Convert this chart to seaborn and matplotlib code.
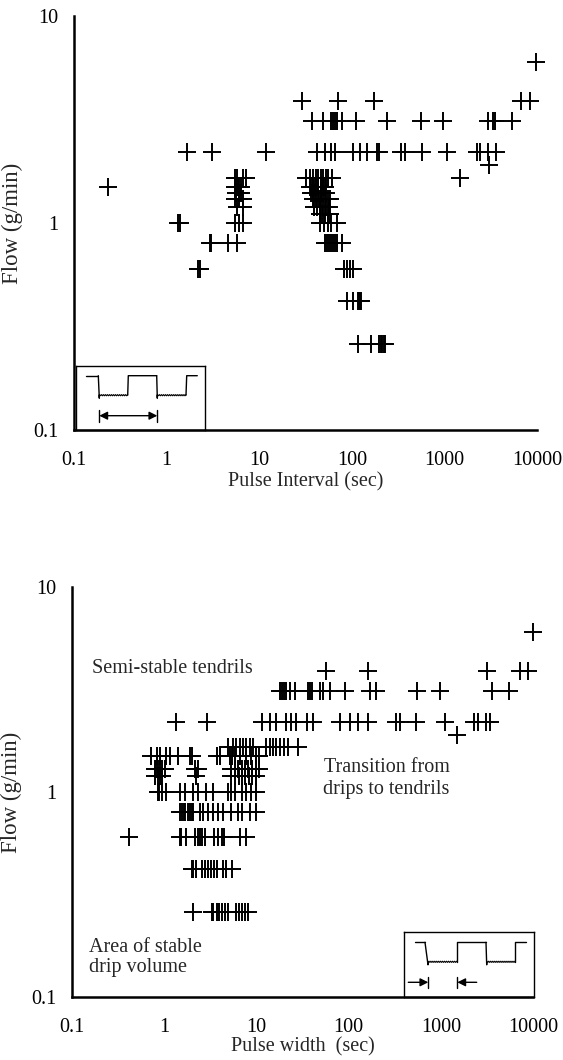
import numpy as np
import pandas as pd
import matplotlib
matplotlib.use("Agg")
import matplotlib.pyplot as plt
import seaborn as sns
from matplotlib.ticker import LogLocator, FixedLocator, FixedFormatter, NullFormatter

# ---------------- data ----------------
# Top panel: Flow vs Pulse Interval
interval_levels = [6.0, 3.9, 3.1, 2.2, 1.9, 1.65, 1.5, 1.4, 1.3, 1.2, 1.1, 1.0, 0.8, 0.6, 0.42, 0.26]
interval_rows = [
    [9700],
    [28.8, 71, 175, 6800, 8400],
    [37.4, 49, 59, 63, 66, 70, 78, 111, 238, 558, 973, 2980, 3375, 3520, 5330],
    [1.65, 3.12, 11.8, 42, 51.4, 59, 65.8, 104, 123, 147, 189, 197, 337, 375, 568, 1076,
     2235, 2425, 2980, 3600],
    [3030],
    [5.5, 5.8, 6.7, 7.2, 32, 35, 38, 41, 43, 46, 49, 52, 56, 61, 1470],
    [0.233, 5.5, 5.7, 5.9, 6.1, 6.3, 35, 37, 39, 41, 43, 46, 49, 51],
    [5.6, 6.0, 6.4, 36, 38, 40, 43, 46, 49, 52],
    [5.5, 6.1, 6.7, 38, 41, 44, 47, 51, 55, 58],
    [5.8, 6.7, 39, 42, 45, 49, 53, 57],
    [45, 48, 51, 55, 58],
    [1.32, 1.4, 5.5, 6.1, 6.7, 45, 50, 55, 60, 70],
    [2.95, 3.05, 4.6, 5.7, 51, 54, 57, 60, 63, 66, 70, 78],
    [2.17, 2.3, 82, 88, 96, 102],
    [88, 104, 117, 120, 124, 127],
    [117, 163, 197, 205, 213, 220, 227],
]

# Bottom panel: Flow vs Pulse width
width_levels = [6.0, 3.9, 3.1, 2.2, 1.9, 1.65, 1.5, 1.3, 1.2, 1.0, 0.8, 0.6, 0.42, 0.26]
width_rows = [
    [10000],
    [57, 162, 3160, 7140, 8790],
    [18, 19, 20, 21, 23, 26, 36, 38, 40, 48.6, 52.8, 62.4, 90.7, 169, 200, 551, 970, 3610, 5560],
    [1.33, 2.88, 11.4, 14, 16.5, 21.2, 24, 27.2, 35, 41.2, 81.5, 103, 126, 162, 324, 358, 542,
     1100, 2320, 2520, 3110, 3380],
    [1500],
    [4.9, 5.6, 6.0, 6.6, 7.2, 7.8, 8.5, 9.2, 12.8, 14, 15.2, 16.5, 17.9, 20, 22.1, 28.3],
    [0.72, 0.83, 0.9, 1.04, 1.15, 1.42, 1.9, 1.98, 3.7, 4.0, 5.15, 5.5, 5.83, 6.6, 7.8, 8.8, 10.0, 10.8],
    [0.79, 0.82, 0.86, 0.9, 0.95, 1.02, 2.15, 2.33, 5.3, 5.8, 6.3, 6.9, 7.5, 8.2, 9.0, 9.8, 10.8],
    [0.8, 0.85, 0.9, 0.95, 2.24, 5.3, 5.8, 6.4, 7.0, 7.6, 8.3, 9.0, 10.0],
    [0.85, 0.87, 0.94, 1.04, 1.47, 1.67, 2.06, 2.33, 2.87, 3.4, 4.94, 5.34, 5.83, 6.9, 7.8, 8.8, 10.0],
    [1.47, 1.55, 1.62, 1.7, 1.8, 1.9, 2.0, 2.06, 2.43, 2.64, 3.0, 3.4, 3.85, 4.35, 5.34, 6.3, 6.9, 8.5, 10.0],
    [0.415, 1.47, 1.54, 1.74, 2.15, 2.3, 2.45, 2.6, 2.75, 3.5, 3.85, 4.2, 4.5, 6.6, 7.8],
    [2.0, 2.06, 2.24, 2.54, 2.75, 3.0, 3.25, 3.5, 3.7, 4.35, 4.7, 5.5],
    [2.06, 3.27, 3.4, 3.7, 3.95, 4.25, 4.6, 4.94, 6.05, 6.5, 7.0, 7.5, 8.1],
]

x_ticks = [0.1, 1, 10, 100, 1000, 10000]
x_ticklabels = ["0.1", "1", "10", "100", "1000", "10000"]
y_ticks = [0.1, 1, 10]
y_ticklabels = ["0.1", "1", "10"]

# inset schematics (inset pixel units, y measured downward)
top_wave_x = [10, 22.3, 23.3, 51.7, 52.3, 80.7, 81.3, 110, 110.7, 121.3]
bot_wave_x = [11, 21, 24, 52.7, 52.7, 82, 82.7, 111, 111, 122]

# ---------------- build frames ----------------
def rows_to_frame(levels, rows, xname):
    xs, ys = [], []
    for lev, row in zip(levels, rows):
        xs.extend(row)
        ys.extend([lev] * len(row))
    return pd.DataFrame({xname: xs, "flow": ys})

df_int = rows_to_frame(interval_levels, interval_rows, "interval")
df_wid = rows_to_frame(width_levels, width_rows, "width")

# ---------------- style ----------------
sns.set_theme(style="white")
plt.rcParams["font.family"] = ["Liberation Serif", "DejaVu Serif"]

W, H = 563, 1060
fig = plt.figure(figsize=(W / 100, H / 100), dpi=100)

def px_axes(l, r, t, b):
    return fig.add_axes([l / W, 1 - b / H, (r - l) / W, (b - t) / H])

ax1 = px_axes(74, 537, 16, 430)
ax2 = px_axes(72, 533, 587, 997)

FS = 14.5

def style_axes(ax, minor_y=True):
    ax.set_xscale("log")
    ax.set_yscale("log")
    ax.set_xlim(0.1, 10000)
    ax.set_ylim(0.1, 10)
    for s in ["top", "right"]:
        ax.spines[s].set_visible(False)
    for s in ["left", "bottom"]:
        ax.spines[s].set_color("black")
        ax.spines[s].set_linewidth(1.8)
    ax.xaxis.set_major_locator(FixedLocator(x_ticks))
    ax.xaxis.set_major_formatter(FixedFormatter(x_ticklabels))
    ax.xaxis.set_minor_locator(FixedLocator([]))
    ax.yaxis.set_major_locator(FixedLocator(y_ticks))
    ax.yaxis.set_major_formatter(FixedFormatter(y_ticklabels))
    if minor_y:
        ax.yaxis.set_minor_locator(LogLocator(base=10, subs=np.arange(2, 10)))
        ax.yaxis.set_minor_formatter(NullFormatter())
        ax.tick_params(axis="y", which="minor", direction="in", length=2, width=0.6, color="#555555")
    else:
        ax.yaxis.set_minor_locator(FixedLocator([]))
    ax.tick_params(axis="both", which="major", direction="out", length=7, width=1.8,
                   colors="black", labelsize=FS, pad=4)
    ax.tick_params(axis="x", which="major", pad=8)
    ax.grid(False)
    ax.set_facecolor("white")

for ax, df, xname in [(ax1, df_int, "interval"), (ax2, df_wid, "width")]:
    sns.scatterplot(data=df, x=xname, y="flow", marker="+", s=160, color="black",
                    linewidth=1.4, ax=ax, legend=False, clip_on=False)

style_axes(ax1, minor_y=True)
style_axes(ax2, minor_y=False)

ax1.set_xlabel("Pulse Interval (sec)", fontsize=FS, labelpad=2)
ax1.set_ylabel("Flow (g/min)", fontsize=16.5)
ax1.yaxis.set_label_coords(-0.110, 0.50)
ax2.set_xlabel("Pulse width  (sec)", fontsize=FS, labelpad=0)
ax2.set_ylabel("Flow (g/min)", fontsize=16.5)
ax2.yaxis.set_label_coords(-0.108, 0.50)

# annotations in bottom panel
ax2.text(0.165, 4.0, "Semi-stable tendrils", fontsize=FS, ha="left", va="center")
ax2.text(1250, 1.16, "Transition from\ndrips to tendrils", fontsize=FS, ha="right",
         multialignment="right", va="center", linespacing=1.2)
ax2.text(0.152, 0.156, "Area of stable\ndrip volume", fontsize=FS, ha="left", va="center",
         linespacing=1.1)

# ---------------- insets ----------------
def zigzag(x0, x1, y, amp=1.0, step=2.0):
    n = int((x1 - x0) / step)
    xs = np.linspace(x0, x1, n * 2 + 1)
    ys = np.array([y + (amp if i % 2 else -amp) * 0.6 for i in range(len(xs))])
    return xs, ys

def draw_wave(ax, wx, hi, lo):
    ax.plot([wx[0], wx[1]], [hi, hi], color="black", lw=1.0)
    ax.plot([wx[1], wx[2], wx[2]], [hi, lo + 3, lo], color="black", lw=1.0)
    zx, zy = zigzag(wx[2], wx[3], lo)
    ax.plot(zx, zy, color="black", lw=0.8)
    ax.plot([wx[3], wx[4], wx[5]], [lo, hi, hi], color="black", lw=1.0)
    ax.plot([wx[5], wx[6], wx[6]], [hi, lo + 3, lo], color="black", lw=1.0)
    zx, zy = zigzag(wx[6], wx[7], lo)
    ax.plot(zx, zy, color="black", lw=0.8)
    ax.plot([wx[7], wx[8], wx[9]], [lo, hi, hi], color="black", lw=1.0)

def make_inset(l, r, t, b):
    ia = px_axes(l, r, t, b)
    ia.set_xlim(0, r - l)
    ia.set_ylim(b - t, 0)
    ia.set_xticks([])
    ia.set_yticks([])
    for s in ia.spines.values():
        s.set_linewidth(1.0)
        s.set_color("black")
        s.set_visible(True)
    ia.set_facecolor("white")
    return ia

in1 = make_inset(76, 205, 365.7, 430)
draw_wave(in1, top_wave_x, 10, 29.5)
in1.annotate("", xy=(81.3, 50), xytext=(23.3, 50),
             arrowprops=dict(arrowstyle="<|-|>", color="black", lw=1.0,
                             mutation_scale=12, shrinkA=0, shrinkB=0))
in1.plot([23.3, 23.3], [44, 56], color="black", lw=1.0)
in1.plot([81.3, 81.3], [44, 56], color="black", lw=1.0)

in2 = make_inset(404, 534, 932.3, 997)
draw_wave(in2, bot_wave_x, 10, 29.5)
in2.annotate("", xy=(24.3, 50), xytext=(4.3, 50),
             arrowprops=dict(arrowstyle="-|>", color="black", lw=1.0,
                             mutation_scale=12, shrinkA=0, shrinkB=0))
in2.annotate("", xy=(53.3, 50), xytext=(72.7, 50),
             arrowprops=dict(arrowstyle="-|>", color="black", lw=1.0,
                             mutation_scale=12, shrinkA=0, shrinkB=0))
in2.plot([24.3, 24.3], [44.4, 56], color="black", lw=1.0)
in2.plot([53.3, 53.3], [44.4, 56], color="black", lw=1.0)

ax1.set_zorder(3); ax2.set_zorder(3)
ax1.patch.set_alpha(0); ax2.patch.set_alpha(0)

fig.savefig("out.png", dpi=100, facecolor="white")
